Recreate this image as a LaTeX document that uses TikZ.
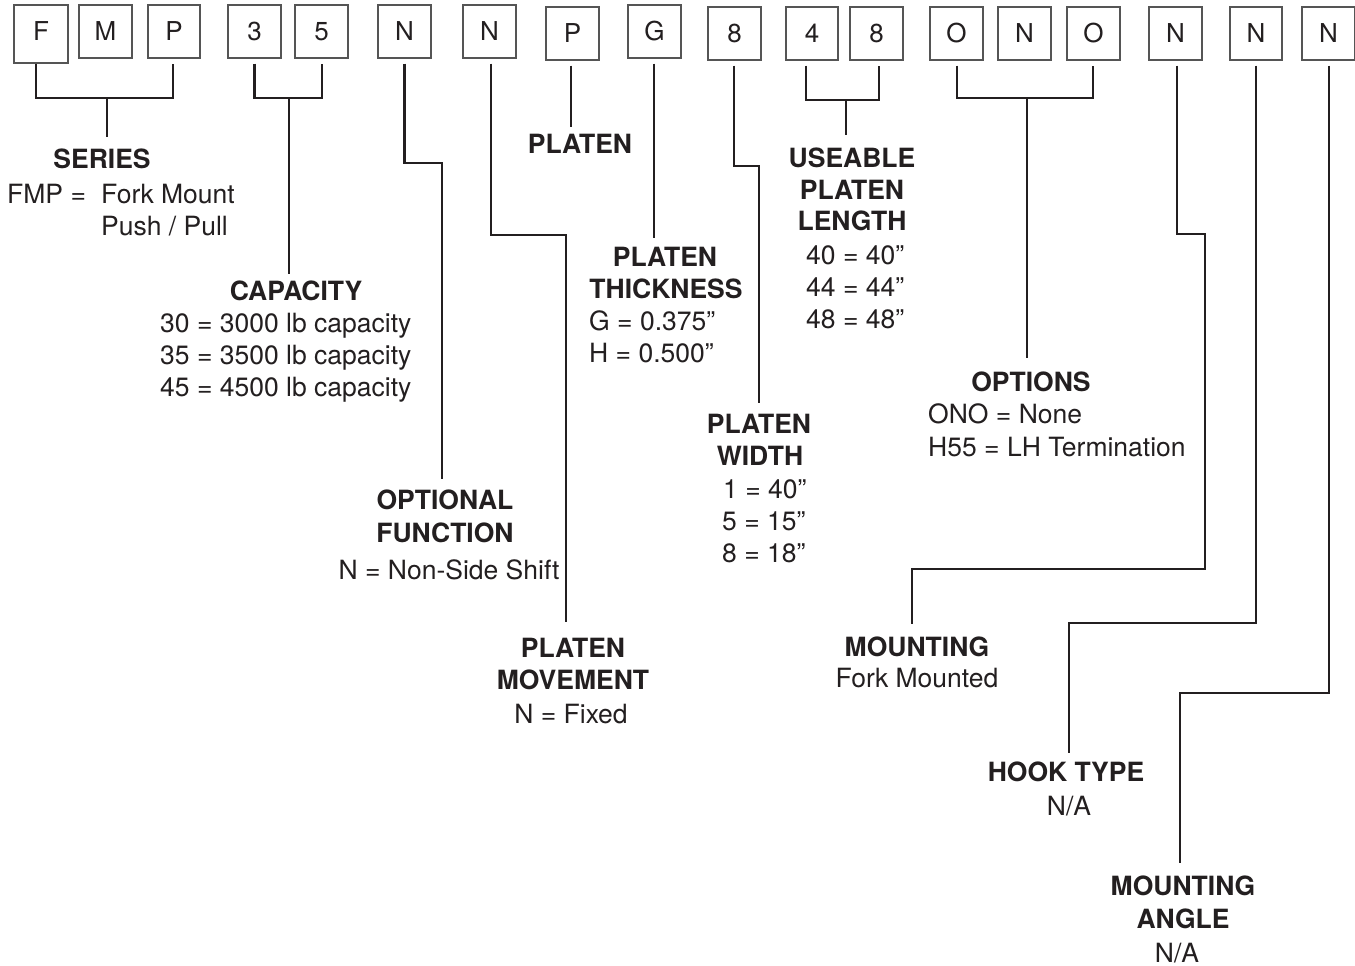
\documentclass[tikz,border=0pt]{standalone}
\usepackage{fontspec}
\setmainfont{TeX Gyre Heros}
\definecolor{ink}{HTML}{231F20}
\definecolor{boxgray}{HTML}{555555}
\begin{document}
\begin{tikzpicture}[x=1pt,y=-1pt,
  digit/.style={draw=boxgray, line width=1.1pt, minimum width=53pt, minimum height=53pt, inner sep=0pt, font=\fontsize{26}{31}\selectfont, text=ink},
  conn/.style={draw=ink, line width=2.3pt},
  hd/.style={anchor=base, inner sep=0pt, font=\fontsize{26.5}{32}\selectfont\bfseries, text=ink},
  tx/.style={anchor=base, inner sep=0pt, font=\fontsize{26.5}{32}\selectfont, text=ink},
  txl/.style={tx, anchor=base west}]
\useasboundingbox (0,0) rectangle (1355,966);
\fill[white] (0,0) rectangle (1355,966);
% code boxes
\node[digit, minimum height=58pt, minimum width=54pt, text depth=5pt] (bF) at (41,34) {F};
\node[digit] (bM)  at (105.5,31.5) {M};
\node[digit, minimum width=52pt] (bP1) at (174,31.5) {P};
\node[digit] (b3)  at (254.5,31.5) {3};
\node[digit] (b5)  at (321.5,31.5) {5};
\node[digit] (bN1) at (404.5,31.5) {N};
\node[digit] (bN2) at (489.5,31.5) {N};
\node[digit] (bP2) at (572.5,33.5) {P};
\node[digit] (bG)  at (654.5,31.5) {G};
\node[digit] (bE1) at (734.5,33.5) {8};
\node[digit, minimum width=52pt] (bF4) at (812,33.5) {4};
\node[digit] (bE2) at (876.5,33.5) {8};
\node[digit] (bO1) at (956.5,33.5) {O};
\node[digit] (bN3) at (1024.5,33.5) {N};
\node[digit] (bO2) at (1093.5,33.5) {O};
\node[digit] (bN4) at (1175.5,33.5) {N};
\node[digit, minimum width=52pt] (bN5) at (1256,33.5) {N};
\node[digit] (bN6) at (1328.5,33.5) {N};
% connector end points
\coordinate (eSer)   at (107,137);
\coordinate (eCap)   at (289,274);
\coordinate (eOpt)   at (442,479);
\coordinate (eMov)   at (566,622);
\coordinate (ePlat)  at (571,127);
\coordinate (eThk)   at (654,238);
\coordinate (eWid)   at (759,403);
\coordinate (eLen)   at (846,135);
\coordinate (eOpts)  at (1027,358);
\coordinate (eMnt)   at (912,624);
\coordinate (eHook)  at (1069,753);
\coordinate (eAng)   at (1180,863);
% connectors
\draw[conn] ([shift={(-5,0)}]bF.south) |- (107,98) -| ([shift={(-1,5)}]bP1.south);
\draw[conn] (107,98) -- (eSer);
\draw[conn] ([shift={(0,5)}]b3.south) |- (289,98) -| ([shift={(0.5,5)}]b5.south);
\draw[conn] (289,98) -- (eCap);
\draw[conn] ([shift={(0,5)}]bN1.south) |- (442,163) -- (eOpt);
\draw[conn] ([shift={(1.5,5)}]bN2.south) |- (566,235) -- (eMov);
\draw[conn] ([shift={(-1.5,5)}]bP2.south) -- (ePlat);
\draw[conn] ([shift={(-0.5,5)}]bG.south) -- (eThk);
\draw[conn] ([shift={(-0.5,5)}]bE1.south) |- (759,166) -- (eWid);
\draw[conn] ([shift={(-6,5)}]bF4.south) |- (846,100) -| ([shift={(2.5,5)}]bE2.south);
\draw[conn] (846,100) -- (eLen);
\draw[conn] ([shift={(0.5,5)}]bO1.south) |- (1027,98) -| ([shift={(-0.5,5)}]bO2.south);
\draw[conn] (1027,98) -- (eOpts);
\draw[conn] ([shift={(1.5,5)}]bN4.south) |- (1205,234) |- (912,569) -- (eMnt);
\draw[conn] ([shift={(0,5)}]bN5.south) |- (1069,623) -- (eHook);
\draw[conn] ([shift={(0.5,5)}]bN6.south) |- (1180,693) -- (eAng);
% labels
\node[hd] (lSer) at (102,168) {SERIES};
\node[txl] (lSer1) at (7,203) {FMP =};
\node[txl] (lSer2) at (101,203) {Fork Mount};
\node[txl] (lSer3) at (101,235) {Push / Pull};
\node[hd] (lCap) at (296,300) {CAPACITY};
\node[txl] (lCap1) at (160,332) {30 = 3000 lb capacity};
\node[txl] (lCap2) at (160,364) {35 = 3500 lb capacity};
\node[txl] (lCap3) at (160,396) {45 = 4500 lb capacity};
\node[hd] (lOpt) at (445,509) {OPTIONAL};
\node[hd] (lOpt2) at (445,542) {FUNCTION};
\node[tx] (lOpt3) at (449,579) {N = Non-Side Shift};
\node[hd] (lMov) at (573,657) {PLATEN};
\node[hd] (lMov2) at (573,689) {MOVEMENT};
\node[tx] (lMov3) at (571,723) {N = Fixed};
\node[hd] (lPlat) at (580,153) {PLATEN};
\node[hd] (lThk) at (665,266) {PLATEN};
\node[hd] (lThk2) at (666,298) {THICKNESS};
\node[txl] (lThk3) at (589,330) {G = 0.375”};
\node[txl] (lThk4) at (589,362) {H = 0.500”};
\node[hd] (lWid) at (759,433) {PLATEN};
\node[hd] (lWid2) at (760,465) {WIDTH};
\node[txl] (lWid3) at (723,498) {1 = 40”};
\node[txl] (lWid4) at (722,530) {5 = 15”};
\node[txl] (lWid5) at (722,562) {8 = 18”};
\node[hd] (lLen) at (852,167) {USEABLE};
\node[hd] (lLen2) at (852,199) {PLATEN};
\node[hd] (lLen3) at (852,230) {LENGTH};
\node[txl] (lLen4) at (806,264) {40 = 40”};
\node[txl] (lLen5) at (806,296) {44 = 44”};
\node[txl] (lLen6) at (806,328) {48 = 48”};
\node[hd] (lOpts) at (1031,391) {OPTIONS};
\node[txl] (lOpts1) at (928,423) {ONO = None};
\node[txl] (lOpts2) at (928,456) {H55 = LH Termination};
\node[hd] (lMnt) at (917,656) {MOUNTING};
\node[tx] (lMnt2) at (917,687) {Fork Mounted};
\node[hd] (lHook) at (1066,781) {HOOK TYPE};
\node[tx] (lHook2) at (1069,815) {N/A};
\node[hd] (lAng) at (1183,895) {MOUNTING};
\node[hd] (lAng2) at (1183,928) {ANGLE};
\node[tx] (lAng3) at (1177,962) {N/A};
\end{tikzpicture}
\end{document}
